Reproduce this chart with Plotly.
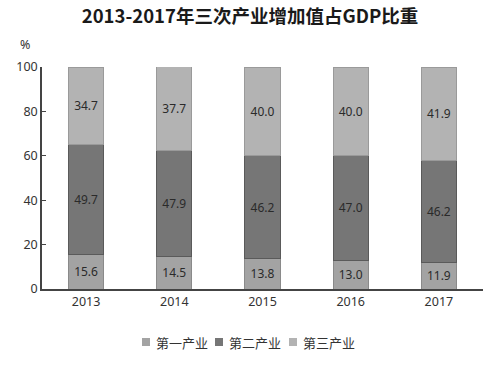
import plotly.graph_objects as go

years = ["2013", "2014", "2015", "2016", "2017"]
primary = [15.6, 14.5, 13.8, 13.0, 11.9]
secondary = [49.7, 47.9, 46.2, 47.0, 46.2]
tertiary = [34.7, 37.7, 40.0, 40.0, 41.9]
series_names = ["第一产业", "第二产业", "第三产业"]
y_ticks = [0, 20, 40, 60, 80, 100]

colors = ["#a3a3a3", "#767676", "#b3b3b3"]
lines = ["#8a8a8a", "#5a5a5a", "#9a9a9a"]

W, H = 500, 365
L, R, T, B = 42, 17, 67, 76
pw = W - L - R
ph = H - T - B

def px(x):
    return (x - L) / pw

def py(y):
    return (H - B - y) / ph

fig = go.Figure()
for name, vals, c, lc in zip(series_names, [primary, secondary, tertiary], colors, lines):
    fig.add_trace(go.Bar(
        x=years, y=vals, name=name, showlegend=False,
        marker=dict(color=c, line=dict(color=lc, width=1)),
        text=[f"{v:.1f}" for v in vals],
        textposition="inside", insidetextanchor="middle",
        textfont=dict(family="Noto Sans", size=12, color="#2a2a2a"),
        constraintext="none",
    ))

fig.update_layout(
    barmode="stack",
    bargap=0.6,
    width=W, height=H,
    margin=dict(l=L, r=R, t=T, b=B, autoexpand=False),
    paper_bgcolor="white", plot_bgcolor="white",
    title=dict(text="<b>2013-2017年三次产业增加值占GDP比重</b>", x=0.5, xanchor="center",
               xref="container", y=1 - 17 / H, yanchor="middle",
               font=dict(family="Noto Sans CJK SC", size=18.5, color="#1a1a1a")),
    font=dict(family="Noto Sans", size=12, color="#333"),
    showlegend=False,
    uniformtext=dict(minsize=8, mode="show"),
)
fig.update_xaxes(showline=True, linecolor="#444", linewidth=1.5, ticks="", automargin=False,
                 tickfont=dict(family="Noto Sans", size=12.5, color="#333"))
fig.update_yaxes(range=[0, 100], tickvals=y_ticks, showgrid=False, showline=True, automargin=False,
                 linecolor="#444", linewidth=1.5, ticks="inside", ticklen=4, tickcolor="#444",
                 tickfont=dict(family="Noto Sans", size=12.5, color="#333"), zeroline=False)
fig.add_annotation(text="%", xref="paper", yref="paper", x=px(25), y=py(45),
                   showarrow=False, xanchor="center", yanchor="middle",
                   font=dict(family="Noto Sans", size=12.5, color="#333"))

# custom legend
legend_sq_x = [142, 215, 289]
legend_y = 342
for name, c, sx in zip(series_names, colors, legend_sq_x):
    fig.add_shape(type="rect", xref="paper", yref="paper",
                  x0=px(sx), x1=px(sx + 8), y0=py(legend_y + 4), y1=py(legend_y - 4),
                  fillcolor=c, line=dict(width=0))
    fig.add_annotation(text=name, xref="paper", yref="paper", x=px(sx + 12),
                       y=py(legend_y), showarrow=False, xanchor="left", yanchor="middle",
                       font=dict(family="Noto Sans CJK SC", size=13, color="#333"))

fig.write_html("out.html", config={"displayModeBar": False},
               post_script="document.body.style.margin='0px';")
